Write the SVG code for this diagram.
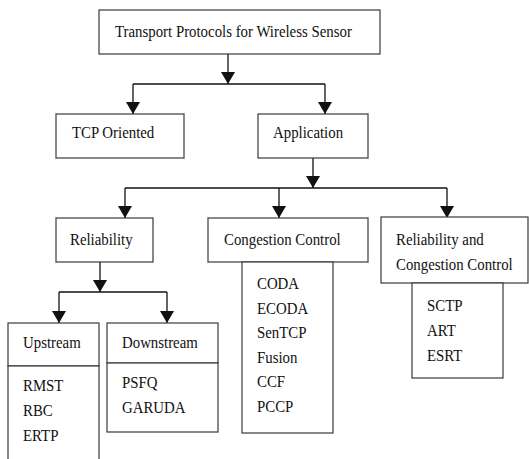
<svg xmlns="http://www.w3.org/2000/svg" width="529" height="459" viewBox="0 0 529 459">
  <style>
    .box { fill: #ffffff; stroke: #3a3a3a; stroke-width: 1.2; }
    .lbl {
      font-family: "Liberation Serif", "Times New Roman", serif;
      font-size: 16.5px;
      fill: #111111;
      transform-box: fill-box;
      transform-origin: 0 0;
      transform: scaleX(0.9);
    }
    .wire { fill: none; stroke: #111111; stroke-width: 1.3; }
  </style>
  <defs>
    <marker id="arrow" markerWidth="12" markerHeight="14" refX="12" refY="7" orient="auto" markerUnits="userSpaceOnUse">
      <path d="M0,0 L12,7 L0,14 Z" fill="#111111"/>
    </marker>
  </defs>
  <rect width="529" height="459" fill="#ffffff"/>

  <!-- connectors -->
  <g id="connectors">
    <path class="wire" d="M228,54 V84" marker-end="url(#arrow)"/>
    <path class="wire" d="M133,84 H325"/>
    <path class="wire" d="M133,84 V114" marker-end="url(#arrow)"/>
    <path class="wire" d="M325,84 V114" marker-end="url(#arrow)"/>

    <path class="wire" d="M313,158 V188" marker-end="url(#arrow)"/>
    <path class="wire" d="M125,188 H447"/>
    <path class="wire" d="M125,188 V218" marker-end="url(#arrow)"/>
    <path class="wire" d="M279,188 V218" marker-end="url(#arrow)"/>
    <path class="wire" d="M447,188 V218" marker-end="url(#arrow)"/>

    <path class="wire" d="M100,262 V292" marker-end="url(#arrow)"/>
    <path class="wire" d="M59,292 H167"/>
    <path class="wire" d="M59,292 V323" marker-end="url(#arrow)"/>
    <path class="wire" d="M167,292 V323" marker-end="url(#arrow)"/>
  </g>

  <g id="root">
    <rect class="box" x="99" y="10" width="281" height="44"/>
    <text class="lbl" x="115" y="37">Transport Protocols for Wireless  Sensor</text>
  </g>

  <g id="tcp-oriented">
    <rect class="box" x="56" y="114" width="128" height="44"/>
    <text class="lbl" x="72" y="138">TCP Oriented</text>
  </g>

  <g id="application">
    <rect class="box" x="258" y="114" width="110" height="44"/>
    <text class="lbl" x="273" y="138">Application</text>
  </g>

  <g id="reliability">
    <rect class="box" x="56" y="218" width="97" height="44"/>
    <text class="lbl" x="70" y="245">Reliability</text>
  </g>

  <g id="congestion-control">
    <rect class="box" x="208" y="218" width="160" height="44"/>
    <text class="lbl" x="224" y="245">Congestion Control</text>
  </g>

  <g id="congestion-list">
    <rect class="box" x="242" y="262" width="91" height="171"/>
    <text class="lbl" x="257" y="289">CODA</text>
    <text class="lbl" x="257" y="314">ECODA</text>
    <text class="lbl" x="257" y="338">SenTCP</text>
    <text class="lbl" x="257" y="363">Fusion</text>
    <text class="lbl" x="257" y="387">CCF</text>
    <text class="lbl" x="257" y="412">PCCP</text>
  </g>

  <g id="reliability-congestion">
    <rect class="box" x="381" y="217" width="147" height="66"/>
    <text class="lbl" x="396" y="245">Reliability and</text>
    <text class="lbl" x="396" y="270">Congestion Control</text>
  </g>

  <g id="reliability-congestion-list">
    <rect class="box" x="412" y="283" width="91" height="95"/>
    <text class="lbl" x="427" y="311">SCTP</text>
    <text class="lbl" x="427" y="336">ART</text>
    <text class="lbl" x="427" y="361">ESRT</text>
  </g>

  <g id="upstream">
    <rect class="box" x="8" y="323" width="91" height="43"/>
    <text class="lbl" x="23" y="348">Upstream</text>
  </g>

  <g id="upstream-list">
    <rect class="box" x="8" y="366" width="91" height="100"/>
    <text class="lbl" x="23" y="391">RMST</text>
    <text class="lbl" x="23" y="416">RBC</text>
    <text class="lbl" x="23" y="441">ERTP</text>
  </g>

  <g id="downstream">
    <rect class="box" x="107" y="323" width="111" height="40"/>
    <text class="lbl" x="122" y="348">Downstream</text>
  </g>

  <g id="downstream-list">
    <rect class="box" x="107" y="363" width="111" height="69"/>
    <text class="lbl" x="122" y="388">PSFQ</text>
    <text class="lbl" x="122" y="413">GARUDA</text>
  </g>
</svg>
